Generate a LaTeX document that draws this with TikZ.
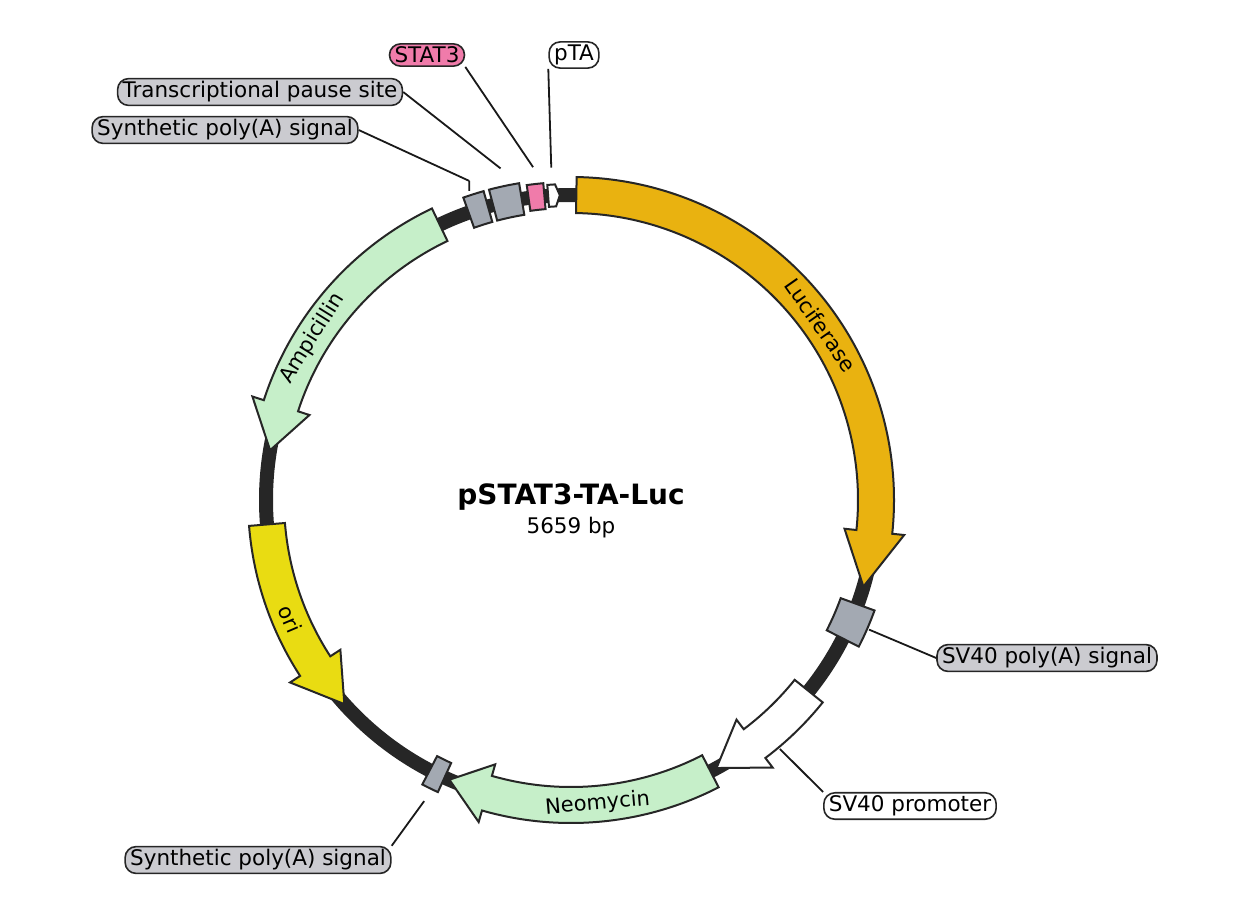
\documentclass[tikz,border=0pt]{standalone}
\usepackage{fontspec}
\setmainfont{DejaVu Sans}
\usetikzlibrary{positioning}

\definecolor{lucif}{HTML}{E9B210}
\definecolor{resist}{HTML}{C6EFC9}
\definecolor{orifill}{HTML}{E9DC12}
\definecolor{boxgray}{HTML}{A3A9B2}
\definecolor{labgray}{HTML}{CBCBD0}
\definecolor{statpink}{HTML}{F07BAA}

% arrow feature: start, head start, tip, fill
\newcommand{\featarrow}[4]{%
  \filldraw[feat, fill=#4] (#1:\R-18) arc[start angle=#1, end angle=#2, radius=\R-18]
    -- (#2:\R-30) -- (#3:\R) -- (#2:\R+30) -- (#2:\R+18)
    arc[start angle=#2, end angle=#1, radius=\R+18] -- cycle;}
% box feature: start, end, half width, fill
\newcommand{\featbox}[4]{%
  \filldraw[feat, fill=#4] (#1:\R-#3) arc[start angle=#1, end angle=#2, radius=\R-#3]
    -- (#2:\R+#3) arc[start angle=#2, end angle=#1, radius=\R+#3] -- cycle;}

\begin{document}
\begin{tikzpicture}[x=1pt, y=-1pt,
  feat/.style={draw=black!85, line width=2pt, line join=miter},
  lab/.style={draw=black!85, line width=1.6pt, rounded corners=11pt, inner xsep=5pt,
    inner ysep=3pt, font=\fontsize{21.5}{24}\selectfont},
  leader/.style={draw=black!90, line width=1.8pt},
  arclab/.style={font=\fontsize{21}{23}\selectfont}
]
\def\R{305}
\useasboundingbox (0,0) rectangle (1247,907);

\begin{scope}[shift={(571,500)}]
% backbone
\draw[line width=14pt, black!85] (0,0) circle[radius=\R];

% big features
\featarrow{-89}{6}{16.5}{lucif}
\featarrow{38.8}{53}{61.5}{white}
\featarrow{62.8}{106}{113.5}{resist}
\featarrow{175.4}{147}{138}{orifill}
\featarrow{244.5}{198}{189.4}{resist}

% small features
\featbox{20}{27}{18}{boxgray}
\featbox{114.5}{117.6}{16}{boxgray}
\featbox{-109.6}{-105.8}{16}{boxgray}
\featbox{-104.8}{-99.3}{16}{boxgray}
\featbox{-98}{-95}{13}{statpink}
\filldraw[feat, fill=white] (-94.3:\R-11) -- (-94.3:\R+11) -- (-92.9:\R+11)
  -- (-92.1:\R) -- (-92.9:\R-11) -- cycle;

% arc labels
\node[arclab, rotate=-55] at (-35:\R) {Luciferase};
\node[arclab, rotate=58] at (212:\R) {Ampicillin};
\node[arclab, rotate=-67] at (157:\R) {ori};
\node[arclab, rotate=5] at (85:\R) {Neomycin};

% leader points
\coordinate (pAtop) at (-107.7:\R+30);
\coordinate (TPSpt) at (-102:\R+34);
\coordinate (STATpt) at (-96.5:\R+30);
\coordinate (pTApt) at (-93.4:\R+28);
\coordinate (SVpApt) at (23.5:\R+20);
\coordinate (SVprpt) at (50:\R+20);
\coordinate (pAbot) at (116:\R+30);
\end{scope}

% center title
\node[font=\bfseries\fontsize{28}{30}\selectfont] (title) at (571,497) {pSTAT3-TA-Luc};
\node[font=\fontsize{21.5}{24}\selectfont, below=0pt of title] (size) {5659 bp};

% labels
\node[lab, fill=statpink] (STAT3) at (427,55) {STAT3};
\node[lab, fill=white] (pTA) at (574,55) {pTA};
\node[lab, fill=labgray] (TPS) at (260,92) {Transcriptional pause site};
\node[lab, fill=labgray] (pAtopL) at (225,130) {Synthetic poly(A) signal};
\node[lab, fill=labgray] (SVpA) at (1047,658) {SV40 poly(A) signal};
\node[lab, fill=white] (SVpr) at (910,806) {SV40 promoter};
\node[lab, fill=labgray] (pAbotL) at (258,860) {Synthetic poly(A) signal};

% leaders
\draw[leader] (pAtop) -- ++(0,10) (pAtop) -- (pAtopL.east);
\draw[leader] (TPSpt) -- (TPS.east);
\draw[leader] (STATpt) -- (STAT3.south east);
\draw[leader] (pTApt) -- (pTA.south west);
\draw[leader] (SVpApt) -- (SVpA.west);
\draw[leader] (SVprpt) -- (SVpr.north west);
\draw[leader] (pAbot) -- (pAbotL.north east);
\end{tikzpicture}
\end{document}
